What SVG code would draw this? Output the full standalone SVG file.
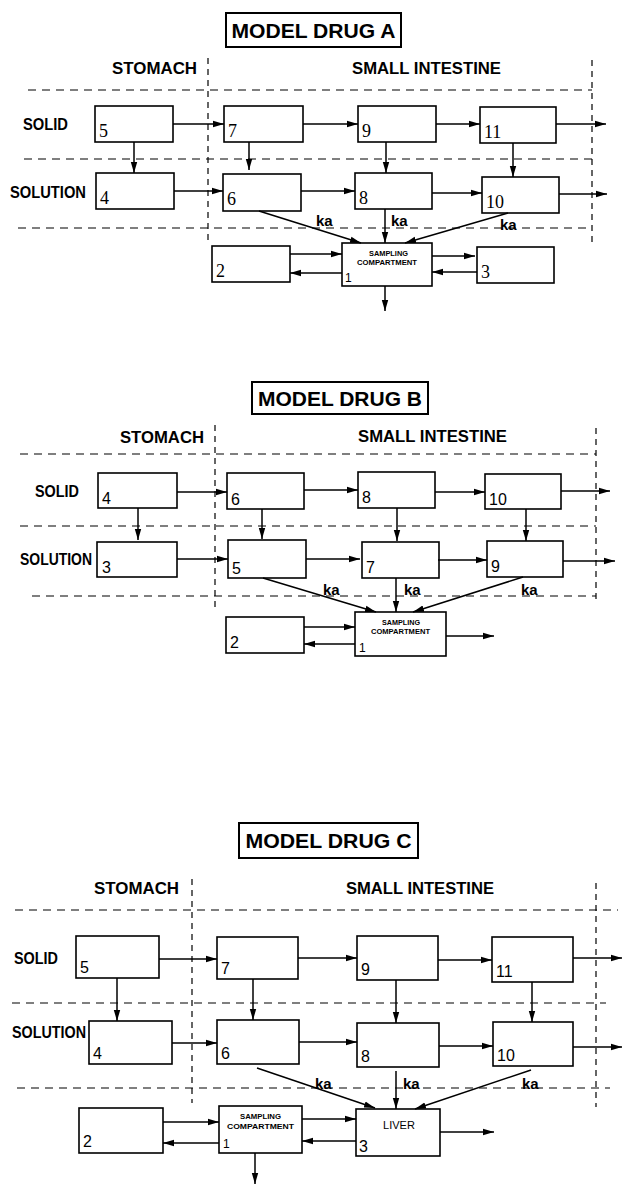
<svg xmlns="http://www.w3.org/2000/svg" width="623" height="1189" viewBox="0 0 623 1189">
<style>
text{fill:#000}
.bx{fill:#fff;stroke:#000;stroke-width:1.6}
.tb{fill:#fff;stroke:#000;stroke-width:2}
.ttl{font-family:"Liberation Sans",Arial,sans-serif;font-weight:bold;font-size:21px}
.hd{font-family:"Liberation Sans",Arial,sans-serif;font-weight:bold;font-size:16px}
.ka{font-family:"Liberation Sans",Arial,sans-serif;font-weight:bold;font-size:15px}
.ns{font-family:"Liberation Serif","Times New Roman",serif;font-size:18px}
.nn{font-family:"Liberation Sans",Arial,sans-serif;font-size:16px}
.n1{font-family:"Liberation Sans",Arial,sans-serif;font-size:12px}
.sm{font-family:"Liberation Sans",Arial,sans-serif;font-weight:bold;font-size:7.5px}
.lv{font-family:"Liberation Sans",Arial,sans-serif;font-size:11px}
.ar{fill:none;stroke:#000;stroke-width:1.5;marker-end:url(#ah)}
.dh{fill:none;stroke:#000;stroke-width:1.2;stroke-dasharray:8 6}
.dv{fill:none;stroke:#000;stroke-width:1.2;stroke-dasharray:6 5}
</style>
<defs>
<marker id="ah" markerUnits="userSpaceOnUse" markerWidth="12" markerHeight="8" refX="11" refY="4" orient="auto">
<path d="M0,0.8 L11,4 L0,7.2 Z" fill="#000"/>
</marker>
</defs>

<!-- ================= MODEL A ================= -->
<g id="A-title"><rect class="tb" x="226" y="13" width="175" height="34"/><text class="ttl" x="313.5" y="38" text-anchor="middle" textLength="164" lengthAdjust="spacingAndGlyphs">MODEL DRUG A</text></g>
<g id="A-grid">
<line class="dv" x1="208" y1="58" x2="208" y2="242"/>
<line class="dv" x1="592" y1="60" x2="592" y2="245"/>
<line class="dh" x1="28" y1="90" x2="592" y2="90"/>
<line class="dh" x1="24" y1="159" x2="592" y2="159"/>
<line class="dh" x1="18" y1="228" x2="592" y2="228"/>
<text class="hd" x="112" y="74" textLength="85" lengthAdjust="spacingAndGlyphs">STOMACH</text>
<text class="hd" x="352" y="74" textLength="149" lengthAdjust="spacingAndGlyphs">SMALL INTESTINE</text>
<text class="hd" x="23" y="130" textLength="45" lengthAdjust="spacingAndGlyphs">SOLID</text>
<text class="hd" x="10" y="198" textLength="76" lengthAdjust="spacingAndGlyphs">SOLUTION</text>
</g>
<g id="A-n5"><rect class="bx" x="95" y="106" width="78" height="36"/><text class="ns" x="99" y="137">5</text></g>
<g id="A-n4"><rect class="bx" x="96" y="173" width="78" height="36"/><text class="ns" x="100" y="204">4</text></g>
<g id="A-n7"><rect class="bx" x="224" y="106" width="79" height="36"/><text class="ns" x="228" y="137">7</text></g>
<g id="A-n6"><rect class="bx" x="223" y="174" width="78" height="37"/><text class="ns" x="227" y="205">6</text></g>
<g id="A-n9"><rect class="bx" x="358" y="106" width="78" height="36"/><text class="ns" x="362" y="137">9</text></g>
<g id="A-n11"><rect class="bx" x="480" y="107" width="76" height="36"/><text class="ns" x="484" y="138">11</text></g>
<g id="A-n8"><rect class="bx" x="355" y="173" width="77" height="36"/><text class="ns" x="359" y="204">8</text></g>
<g id="A-n10"><rect class="bx" x="482" y="177" width="77" height="36"/><text class="ns" x="486" y="208">10</text></g>
<g id="A-n1"><rect class="bx" x="342" y="243" width="90" height="43"/><text class="sm" x="369" y="256" textLength="39" lengthAdjust="spacingAndGlyphs">SAMPLING</text><text class="sm" x="357" y="265" textLength="60" lengthAdjust="spacingAndGlyphs">COMPARTMENT</text><text class="n1" x="345" y="282">1</text></g>
<g id="A-n3"><rect class="bx" x="477" y="247" width="77" height="36"/><text class="ns" x="481" y="278">3</text></g>
<g id="A-n2"><rect class="bx" x="212" y="246" width="78" height="36"/><text class="ns" x="216" y="277">2</text></g>
<g id="A-edges">
<line class="ar" x1="173" y1="124" x2="224" y2="124"/>
<line class="ar" x1="303" y1="124" x2="358" y2="124"/>
<line class="ar" x1="436" y1="124" x2="480" y2="124"/>
<line class="ar" x1="556" y1="124" x2="606" y2="124"/>
<line class="ar" x1="174" y1="191" x2="223" y2="191"/>
<line class="ar" x1="301" y1="191" x2="355" y2="191"/>
<line class="ar" x1="432" y1="193" x2="482" y2="193"/>
<line class="ar" x1="559" y1="194" x2="607" y2="194"/>
<line class="ar" x1="134" y1="142" x2="134" y2="173"/>
<line class="ar" x1="249" y1="142" x2="249" y2="170"/>
<line class="ar" x1="386" y1="142" x2="386" y2="173"/>
<line class="ar" x1="513" y1="143" x2="513" y2="177"/>
<line class="ar" x1="259" y1="211" x2="361" y2="243"/>
<line class="ar" x1="385" y1="209" x2="385" y2="243"/>
<line class="ar" x1="508" y1="213" x2="405" y2="243"/>
<line class="ar" x1="290" y1="254" x2="342" y2="254"/>
<line class="ar" x1="342" y1="273" x2="290" y2="273"/>
<line class="ar" x1="432" y1="256" x2="475" y2="256"/>
<line class="ar" x1="477" y1="272" x2="432" y2="272"/>
<line class="ar" x1="385" y1="286" x2="385" y2="311"/>
<text class="ka" x="316" y="226">ka</text>
<text class="ka" x="391" y="226">ka</text>
<text class="ka" x="500" y="230">ka</text>
</g>

<!-- ================= MODEL B ================= -->
<g id="B-title"><rect class="tb" x="252" y="382" width="176" height="32"/><text class="ttl" x="340" y="406" text-anchor="middle" textLength="164" lengthAdjust="spacingAndGlyphs">MODEL DRUG B</text></g>
<g id="B-grid">
<line class="dv" x1="215" y1="425" x2="215" y2="608"/>
<line class="dv" x1="596" y1="428" x2="596" y2="602"/>
<line class="dh" x1="20" y1="454" x2="596" y2="454"/>
<line class="dh" x1="20" y1="526" x2="596" y2="526"/>
<line class="dh" x1="32" y1="596" x2="596" y2="596"/>
<text class="hd" x="120" y="443" textLength="84" lengthAdjust="spacingAndGlyphs">STOMACH</text>
<text class="hd" x="358" y="442" textLength="149" lengthAdjust="spacingAndGlyphs">SMALL INTESTINE</text>
<text class="hd" x="35" y="497" textLength="44" lengthAdjust="spacingAndGlyphs">SOLID</text>
<text class="hd" x="20" y="565" textLength="72" lengthAdjust="spacingAndGlyphs">SOLUTION</text>
</g>
<g id="B-n4"><rect class="bx" x="98" y="473" width="79" height="35"/><text class="nn" x="102" y="504">4</text></g>
<g id="B-n3"><rect class="bx" x="97" y="542" width="80" height="35"/><text class="nn" x="102" y="573">3</text></g>
<g id="B-n6"><rect class="bx" x="227" y="473" width="77" height="36"/><text class="nn" x="231" y="505">6</text></g>
<g id="B-n5"><rect class="bx" x="228" y="540" width="78" height="38"/><text class="nn" x="232" y="574">5</text></g>
<g id="B-n8"><rect class="bx" x="358" y="472" width="77" height="36"/><text class="nn" x="362" y="503">8</text></g>
<g id="B-n10"><rect class="bx" x="485" y="474" width="76" height="35"/><text class="nn" x="489" y="505">10</text></g>
<g id="B-n7"><rect class="bx" x="362" y="542" width="77" height="36"/><text class="nn" x="366" y="573">7</text></g>
<g id="B-n9"><rect class="bx" x="487" y="541" width="76" height="36"/><text class="nn" x="491" y="572">9</text></g>
<g id="B-n1"><rect class="bx" x="355" y="612" width="91" height="44"/><text class="sm" x="382" y="625" textLength="38" lengthAdjust="spacingAndGlyphs">SAMPLING</text><text class="sm" x="371" y="634" textLength="59" lengthAdjust="spacingAndGlyphs">COMPARTMENT</text><text class="n1" x="359" y="652">1</text></g>
<g id="B-n2"><rect class="bx" x="226" y="617" width="78" height="36"/><text class="nn" x="230" y="648">2</text></g>
<g id="B-edges">
<line class="ar" x1="177" y1="492" x2="227" y2="492"/>
<line class="ar" x1="304" y1="490" x2="358" y2="490"/>
<line class="ar" x1="435" y1="492" x2="485" y2="492"/>
<line class="ar" x1="561" y1="491" x2="610" y2="491"/>
<line class="ar" x1="177" y1="559" x2="228" y2="559"/>
<line class="ar" x1="306" y1="559" x2="360" y2="559"/>
<line class="ar" x1="438" y1="560" x2="487" y2="560"/>
<line class="ar" x1="563" y1="561" x2="615" y2="561"/>
<line class="ar" x1="138" y1="508" x2="138" y2="540"/>
<line class="ar" x1="262" y1="509" x2="262" y2="539"/>
<line class="ar" x1="397" y1="508" x2="397" y2="541"/>
<line class="ar" x1="526" y1="509" x2="526" y2="541"/>
<line class="ar" x1="263" y1="578" x2="376" y2="612"/>
<line class="ar" x1="396" y1="578" x2="396" y2="612"/>
<line class="ar" x1="523" y1="577" x2="413" y2="612"/>
<line class="ar" x1="304" y1="627" x2="355" y2="627"/>
<line class="ar" x1="355" y1="644" x2="304" y2="644"/>
<line class="ar" x1="446" y1="636" x2="494" y2="636"/>
<text class="ka" x="323" y="595">ka</text>
<text class="ka" x="404" y="595">ka</text>
<text class="ka" x="521" y="595">ka</text>
</g>

<!-- ================= MODEL C ================= -->
<g id="C-title"><rect class="tb" x="239" y="823" width="179" height="35"/><text class="ttl" x="328.5" y="848" text-anchor="middle" textLength="166" lengthAdjust="spacingAndGlyphs">MODEL DRUG C</text></g>
<g id="C-grid">
<line class="dv" x1="192" y1="879" x2="192" y2="1103"/>
<line class="dv" x1="596" y1="883" x2="596" y2="1107"/>
<line class="dh" x1="15" y1="910" x2="618" y2="910"/>
<line class="dh" x1="12" y1="1003" x2="606" y2="1003"/>
<line class="dh" x1="17" y1="1088" x2="610" y2="1088"/>
<text class="hd" x="94" y="894" textLength="85" lengthAdjust="spacingAndGlyphs">STOMACH</text>
<text class="hd" x="346" y="894" textLength="148" lengthAdjust="spacingAndGlyphs">SMALL INTESTINE</text>
<text class="hd" x="14" y="964" textLength="44" lengthAdjust="spacingAndGlyphs">SOLID</text>
<text class="hd" x="12" y="1038" textLength="74" lengthAdjust="spacingAndGlyphs">SOLUTION</text>
</g>
<g id="C-n5"><rect class="bx" x="76" y="936" width="83" height="42"/><text class="nn" x="80" y="973">5</text></g>
<g id="C-n4"><rect class="bx" x="89" y="1021" width="83" height="43"/><text class="nn" x="93" y="1059">4</text></g>
<g id="C-n7"><rect class="bx" x="217" y="937" width="81" height="42"/><text class="nn" x="221" y="974">7</text></g>
<g id="C-n6"><rect class="bx" x="217" y="1020" width="82" height="44"/><text class="nn" x="221" y="1059">6</text></g>
<g id="C-n9"><rect class="bx" x="357" y="936" width="81" height="44"/><text class="nn" x="361" y="975">9</text></g>
<g id="C-n11"><rect class="bx" x="492" y="937" width="81" height="45"/><text class="nn" x="496" y="977">11</text></g>
<g id="C-n8"><rect class="bx" x="357" y="1023" width="82" height="44"/><text class="nn" x="361" y="1062">8</text></g>
<g id="C-n10"><rect class="bx" x="493" y="1022" width="80" height="44"/><text class="nn" x="497" y="1061">10</text></g>
<g id="C-n1"><rect class="bx" x="219" y="1106" width="83" height="47"/><text class="sm" x="240" y="1119" textLength="41" lengthAdjust="spacingAndGlyphs">SAMPLING</text><text class="sm" x="227" y="1129" textLength="67" lengthAdjust="spacingAndGlyphs">COMPARTMENT</text><text class="n1" x="223" y="1148">1</text></g>
<g id="C-n3"><rect class="bx" x="356" y="1109" width="84" height="47"/><text class="lv" x="399" y="1129" text-anchor="middle">LIVER</text><text class="nn" x="359" y="1152">3</text></g>
<g id="C-n2"><rect class="bx" x="79" y="1108" width="84" height="45"/><text class="nn" x="83" y="1147">2</text></g>
<g id="C-edges">
<line class="ar" x1="159" y1="959" x2="217" y2="959"/>
<line class="ar" x1="298" y1="958" x2="357" y2="958"/>
<line class="ar" x1="438" y1="960" x2="492" y2="960"/>
<line class="ar" x1="573" y1="958" x2="622" y2="958"/>
<line class="ar" x1="172" y1="1043" x2="217" y2="1043"/>
<line class="ar" x1="299" y1="1042" x2="357" y2="1042"/>
<line class="ar" x1="439" y1="1046" x2="493" y2="1046"/>
<line class="ar" x1="573" y1="1047" x2="622" y2="1047"/>
<line class="ar" x1="117" y1="978" x2="117" y2="1021"/>
<line class="ar" x1="253" y1="979" x2="253" y2="1020"/>
<line class="ar" x1="396" y1="980" x2="396" y2="1023"/>
<line class="ar" x1="532" y1="982" x2="532" y2="1022"/>
<line class="ar" x1="257" y1="1068" x2="375" y2="1108"/>
<line class="ar" x1="396" y1="1071" x2="396" y2="1109"/>
<line class="ar" x1="531" y1="1070" x2="415" y2="1109"/>
<line class="ar" x1="163" y1="1122" x2="219" y2="1122"/>
<line class="ar" x1="219" y1="1143" x2="163" y2="1143"/>
<line class="ar" x1="302" y1="1119" x2="356" y2="1119"/>
<line class="ar" x1="356" y1="1141" x2="302" y2="1141"/>
<line class="ar" x1="440" y1="1132" x2="494" y2="1132"/>
<line class="ar" x1="255" y1="1153" x2="255" y2="1184"/>
<text class="ka" x="315" y="1089">ka</text>
<text class="ka" x="403" y="1089">ka</text>
<text class="ka" x="522" y="1089">ka</text>
</g>
</svg>
